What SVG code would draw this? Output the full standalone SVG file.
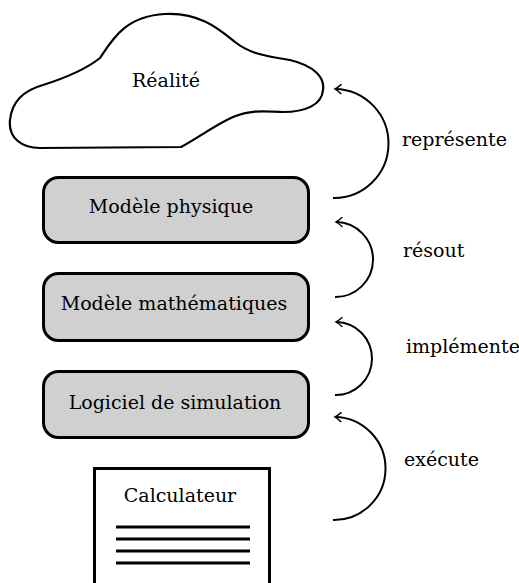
<svg xmlns="http://www.w3.org/2000/svg" width="519" height="583" viewBox="0 0 519 583">
  <style>
    text { font-family: "DejaVu Serif", serif; font-size: 19px; fill: #000; }
    .mid { text-anchor: middle; }
    .box { fill: #d0d0d0; stroke: #000; stroke-width: 3; }
    .cloud { fill: #fff; stroke: #000; stroke-width: 2.2; }
    .comp { fill: #fff; stroke: #000; stroke-width: 3; }
    .bar { stroke: #000; stroke-width: 3; }
    .arc { fill: none; stroke: #000; stroke-width: 2; }
  </style>
  <defs>
    <marker id="arr" markerUnits="userSpaceOnUse" markerWidth="14" markerHeight="14" viewBox="-8 -7 10 14" refX="0" refY="0" orient="auto">
      <path d="M -6,-4.5 Q -2,-1 0,0 Q -2,1 -6,4.5" fill="none" stroke="#000" stroke-width="1.4" stroke-linecap="round"/>
    </marker>
  </defs>
  <rect width="519" height="583" fill="#fff"/>

  <g id="realite">
    <path class="cloud" d="M 100,58 C 112,40 125,16 165,14 C 200,12 220,30 235,42 C 250,54 266,56 290,60 C 315,66 325,78 323,90 C 322,105 305,112 283,112 C 262,111 250,110 233,117 C 215,125 198,138 181,147 L 40,148 C 22,148 8,138 10,120 C 12,100 25,90 43,85 C 65,78 85,70 100,58 Z"/>
    <text class="mid" x="166" y="87">Réalité</text>
  </g>

  <g id="modele-physique">
    <rect class="box" x="43.5" y="177.5" width="265" height="65" rx="15" ry="15"/>
    <text class="mid" x="171" y="213">Modèle physique</text>
  </g>

  <g id="modele-mathematiques">
    <rect class="box" x="43.5" y="273.5" width="265" height="67" rx="15" ry="15"/>
    <text class="mid" x="174" y="310">Modèle mathématiques</text>
  </g>

  <g id="logiciel">
    <rect class="box" x="43.5" y="371.5" width="265" height="66" rx="15" ry="15"/>
    <text class="mid" x="175" y="409">Logiciel de simulation</text>
  </g>

  <g id="calculateur">
    <rect class="comp" x="94.5" y="468.5" width="175" height="130"/>
    <text class="mid" x="180" y="502">Calculateur</text>
    <line class="bar" x1="116" y1="527" x2="250" y2="527"/>
    <line class="bar" x1="116" y1="539" x2="250" y2="539"/>
    <line class="bar" x1="116" y1="551" x2="250" y2="551"/>
    <line class="bar" x1="116" y1="563" x2="250" y2="563"/>
  </g>

  <g id="connectors">
    <path class="arc" d="M 333,198 A 54.5,54.5 0 0 0 335,89" marker-end="url(#arr)"/>
    <path class="arc" d="M 335,297 A 37.5,37.5 0 0 0 336,222" marker-end="url(#arr)"/>
    <path class="arc" d="M 335,395 A 36.5,36.5 0 0 0 336,322" marker-end="url(#arr)"/>
    <path class="arc" d="M 333,520 A 51.5,51.5 0 0 0 335,417" marker-end="url(#arr)"/>
    <text x="402" y="146">représente</text>
    <text x="403" y="257">résout</text>
    <text x="406" y="353">implémente</text>
    <text x="404" y="466">exécute</text>
  </g>
</svg>
